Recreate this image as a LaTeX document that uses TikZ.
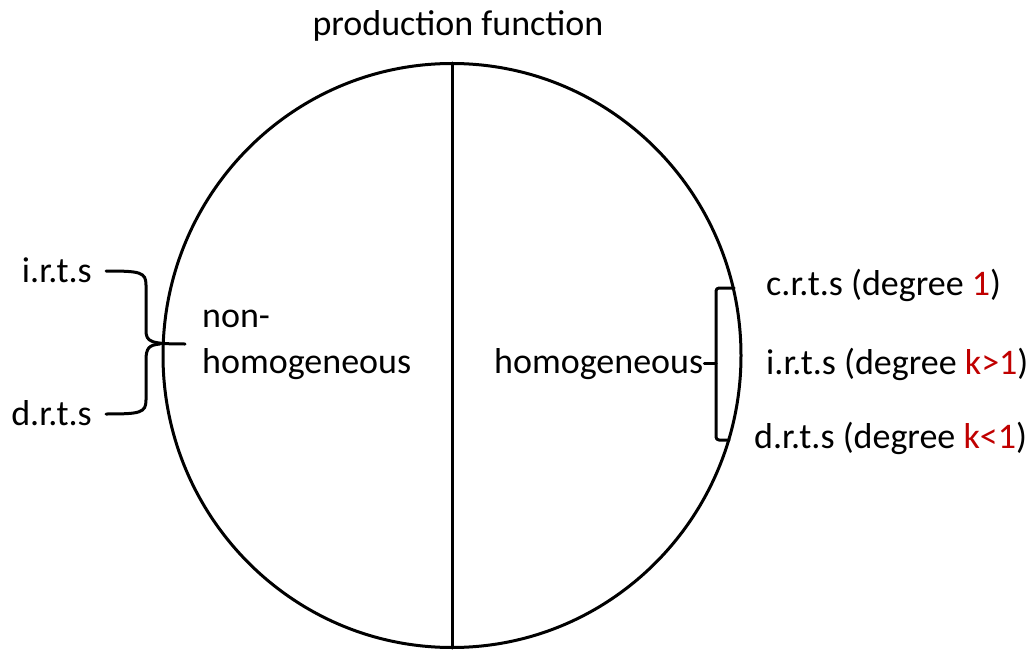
\documentclass[tikz,border=0pt]{standalone}
\usepackage{fontspec}
\setmainfont{Carlito}
\definecolor{dred}{RGB}{192,0,0}
\begin{document}
\begin{tikzpicture}[x=1pt,y=1pt,
  lbl/.style={inner sep=0pt,font=\fontsize{36}{46}\selectfont},
  ln/.style={line width=3pt,line cap=round,line join=round}]
\useasboundingbox (0,0) rectangle (1029,-650);
% circle and divider
\coordinate (top) at (452,-63);
\coordinate (bot) at (452,-648);
\draw[ln] (452,-355.5) ellipse [x radius=289, y radius=292];
\draw[ln] (top) -- (bot);
% title
\node[lbl,anchor=base] (title) at (458,-36) {production function};
% left side
\node[lbl,anchor=base east] (irtsL) at (92,-282) {i.r.t.s};
\node[lbl,anchor=base east] (drtsL) at (92,-425) {d.r.t.s};
\node[lbl,anchor=base west,align=left] (nonhom) at (202,-373) {non-\\homogeneous};
\coordinate (tipL) at (185,-344);
\draw[ln] ([xshift=14pt]irtsL.east |- 0,-271) .. controls (140,-271) and (146,-272) .. (146,-285)
  -- (146,-330) .. controls (146,-342) and (150,-344) .. (tipL);
\draw[ln] (160,-344) .. controls (149,-345) and (146,-348) .. (146,-360)
  -- (146,-400) .. controls (146,-413) and (140,-414) .. ([xshift=14pt]drtsL.east |- 0,-414);
% right side
\node[lbl,anchor=base west] (hom) at (494,-373) {homogeneous};
\node[lbl,anchor=base west] (crts) at (766,-295) {c.r.t.s (degree \textcolor{dred}{1})};
\node[lbl,anchor=base west] (irtsR) at (766,-374) {i.r.t.s (degree \textcolor{dred}{k>1})};
\node[lbl,anchor=base west] (drtsR) at (754,-448) {d.r.t.s (degree \textcolor{dred}{k<1})};
\coordinate (brk) at (716,-363);
\draw[ln] (hom.east |- brk) ++(1,0) -- (brk);
\draw[ln,rounded corners=3pt] (734,-288) -- (716,-288) -- (716,-440) -- (729,-440);
\end{tikzpicture}
\end{document}
